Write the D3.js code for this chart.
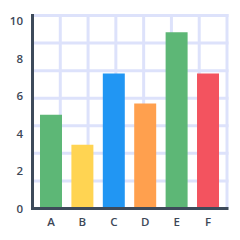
<!DOCTYPE html>
<html>
<head>
<meta charset="utf-8">
<script src="https://cdn.jsdelivr.net/npm/d3@7"></script>
<style>
  body { margin: 0; background: #fff; }
  text { font-family: "Open Sans", "DejaVu Sans", sans-serif; fill: #3d4757; font-weight: 600; }
</style>
</head>
<body>
<svg width="240" height="240"></svg>
<script>
// chart data
var categories = ["A", "B", "C", "D", "E", "F"];
var values = [5, 3.4, 7.2, 5.6, 9.4, 7.2];
var colors = ["#5db776", "#ffd452", "#2196f3", "#ffa04e", "#5db776", "#f3535f"];
var yTicks = [0, 2, 4, 6, 8, 10];
var gridCells = 7;

var svg = d3.select("svg");

// note: "top" is reserved on window, so use other names
var plotLeft = 32.5, plotRight = 227, plotTop = 15.5, plotBase = 208.5;

var y = d3.scaleLinear().domain([0, 10]).range([plotBase, 21]);
var x = d3.scaleBand().domain(categories).range([40, 219]).paddingInner(0.3).paddingOuter(0);

// decorative background grid
var gx = d3.scaleLinear().domain([0, gridCells]).range([plotLeft, plotRight]);
var gy = d3.scaleLinear().domain([0, gridCells]).range([plotBase, plotTop]);

svg.append("g").selectAll("line")
    .data(d3.range(1, gridCells + 1))
    .enter().append("line")
    .attr("x1", function(d) { return gx(d); })
    .attr("x2", function(d) { return gx(d); })
    .attr("y1", plotTop - 1.5)
    .attr("y2", plotBase)
    .attr("stroke", "#dde2fb")
    .attr("stroke-width", 3);

svg.append("g").selectAll("line")
    .data(d3.range(1, gridCells + 1))
    .enter().append("line")
    .attr("x1", plotLeft)
    .attr("x2", plotRight + 1.5)
    .attr("y1", function(d) { return gy(d); })
    .attr("y2", function(d) { return gy(d); })
    .attr("stroke", "#dde2fb")
    .attr("stroke-width", 3);

// bars
svg.append("g").selectAll("rect")
    .data(values)
    .enter().append("rect")
    .attr("x", function(d, i) { return x(categories[i]); })
    .attr("width", x.bandwidth())
    .attr("y", function(d) { return y(d); })
    .attr("height", function(d) { return plotBase - y(d); })
    .attr("fill", function(d, i) { return colors[i]; });

// axes lines
svg.append("line")
    .attr("x1", plotLeft).attr("x2", plotLeft)
    .attr("y1", plotTop - 1.5).attr("y2", plotBase + 1.5)
    .attr("stroke", "#3d4a5a").attr("stroke-width", 3);
svg.append("line")
    .attr("x1", plotLeft - 1.5).attr("x2", plotRight + 1.5)
    .attr("y1", plotBase).attr("y2", plotBase)
    .attr("stroke", "#3d4a5a").attr("stroke-width", 3);

// y axis labels
var yAxis = d3.axisLeft(y).tickValues(yTicks).tickSize(0).tickPadding(0);
var ya = svg.append("g").attr("transform", "translate(23,0)").call(yAxis);
ya.select(".domain").remove();
ya.selectAll("text").style("font-size", "11.5px").attr("fill", "#3d4757");

// x axis labels
var xAxis = d3.axisBottom(x).tickSize(0).tickPadding(0);
var xa = svg.append("g").attr("transform", "translate(0," + 217.5 + ")").call(xAxis);
xa.select(".domain").remove();
xa.selectAll("text").style("font-size", "11.5px").attr("fill", "#3d4757");
</script>
</body>
</html>
